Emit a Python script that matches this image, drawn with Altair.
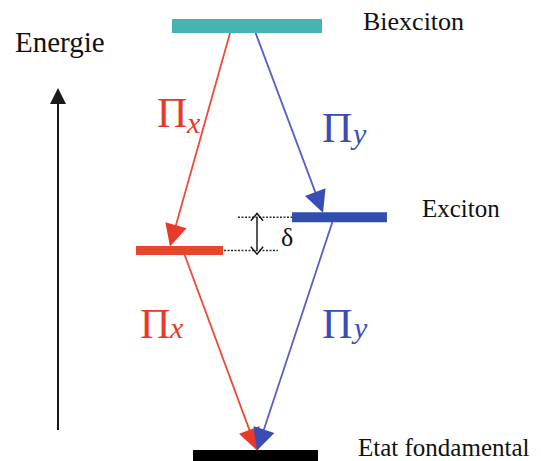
import math
import altair as alt
import pandas as pd

# ---------------- data ----------------
level_names = ["Biexciton", "Exciton X", "Exciton Y", "Etat fondamental"]
level_energy = [4.0, 1.91, 2.22, 0.0]          # arbitrary energy units
level_text = ["Biexciton", "", "Exciton", "Etat fondamental"]

trans_from = ["Biexciton", "Biexciton", "Exciton X", "Exciton Y"]
trans_to = ["Exciton X", "Exciton Y", "Etat fondamental", "Etat fondamental"]
trans_pol = ["x", "y", "x", "y"]

# ---------------- layout / style ----------------
W, H = 525, 453
E_LO, E_HI = -0.0512, 4.1676
SERIF = "Liberation Serif, serif"

level_x = {"Biexciton": (164, 314), "Exciton X": (128, 215),
           "Exciton Y": (284, 379), "Etat fondamental": (185, 310)}
level_thick = {"Biexciton": 14, "Exciton X": 9, "Exciton Y": 10, "Etat fondamental": 11}
level_color = {"Biexciton": "#46b3b5", "Exciton X": "#e8462b",
               "Exciton Y": "#2f4fb0", "Etat fondamental": "#000000"}
level_label_x = {"Biexciton": 355, "Exciton Y": 414, "Etat fondamental": 350}
level_label_y = {"Biexciton": 22, "Exciton Y": 209, "Etat fondamental": 448}
level_label_size = {"Biexciton": 26, "Exciton Y": 25, "Etat fondamental": 25}
trans_x = [(224, 162), (245, 315), (175, 249), (326, 249)]
pol_color = {"x": "#e8392b", "y": "#3a4db5"}
line_color = {"x": "#ee4a35", "y": "#5a5fc2"}
HEAD = 22
TRI = "M0,-1L1,1L-1,1Z"

energy = dict(zip(level_names, level_energy))


def py(e):
    return H - (e - E_LO) / (E_HI - E_LO) * H


def inv(p):
    return E_LO + (H - p) / H * (E_HI - E_LO)


# ---------------- text layers ----------------
text_layers = []
for txt, name in zip(level_text, level_names):
    if not txt:
        continue
    text_layers.append(
        alt.Chart(pd.DataFrame({"t": [txt]})).mark_text(
            font=SERIF, fontSize=level_label_size[name], align="left",
            baseline="alphabetic", color="#111111", fontWeight="normal"
        ).encode(x=alt.value(level_label_x[name]), y=alt.value(level_label_y[name]), text="t:N")
    )

text_layers.append(alt.Chart(pd.DataFrame({"t": ["Energie"]})).mark_text(
    font=SERIF, fontSize=29, align="left", baseline="alphabetic", color="#111111",
    fontWeight="normal"
).encode(x=alt.value(7), y=alt.value(44), text="t:N"))

text_layers.append(alt.Chart(pd.DataFrame({"t": ["δ"]})).mark_text(
    font=SERIF, fontSize=26, align="left", baseline="alphabetic", color="#111111",
    fontWeight="normal"
).encode(x=alt.value(273), y=alt.value(238), text="t:N"))

pi_x = [149, 314, 132, 314]
pi_base = [119, 134, 330, 330]
sub_x = [179, 345, 162, 346]
sub_base = [125, 136, 330, 330]
pol_list = ["x", "y", "x", "y"]
for px_, pb, sx, sb, p in zip(pi_x, pi_base, sub_x, sub_base, pol_list):
    text_layers.append(alt.Chart(pd.DataFrame({"t": ["Π"]})).mark_text(
        font=SERIF, fontSize=42, align="left", baseline="alphabetic", color=pol_color[p],
        fontWeight="normal"
    ).encode(x=alt.value(px_), y=alt.value(pb), text="t:N"))
    text_layers.append(alt.Chart(pd.DataFrame({"t": [p]})).mark_text(
        font=SERIF, fontSize=30, fontStyle="italic", align="left", baseline="alphabetic",
        color=pol_color[p], fontWeight="normal"
    ).encode(x=alt.value(sx), y=alt.value(sb), text="t:N"))

# ---------------- geometry ----------------
lev = pd.DataFrame({
    "e": level_energy,
    "x": [level_x[n][0] for n in level_names],
    "x2": [level_x[n][1] for n in level_names],
    "w": [level_thick[n] for n in level_names],
    "c": [level_color[n] for n in level_names],
})

rows = []
for f, t, p, (x0, x1) in zip(trans_from, trans_to, trans_pol, trans_x):
    y0 = py(energy[f])
    ytip = py(energy[t]) - level_thick[t] / 2 + 0.5
    dx, dy = x1 - x0, ytip - y0
    L = math.hypot(dx, dy)
    ux, uy = dx / L, dy / L
    hx, hy = x1 - HEAD / 2 * ux, ytip - HEAD / 2 * uy
    ang = math.degrees(math.atan2(ux, -uy)) % 360
    rows.append({"x": x0, "e": energy[f], "x2": hx, "e2": inv(hy),
                 "hx": hx, "he": inv(hy), "ang": ang,
                 "lc": line_color[p], "hc": pol_color[p]})
tr = pd.DataFrame(rows)

xs = alt.Scale(domain=[0, W], nice=False, zero=False)
ys = alt.Scale(domain=[E_LO, E_HI], nice=False, zero=False)
X = lambda f: alt.X(f, type="quantitative", scale=xs, axis=None)
Y = lambda f: alt.Y(f, type="quantitative", scale=ys, axis=None)

bars = alt.Chart(lev).mark_rule().encode(
    x=X("x"), x2="x2", y=Y("e"),
    color=alt.Color("c:N", scale=None),
    strokeWidth=alt.StrokeWidth("w:Q", scale=None),
)
lines = alt.Chart(tr).mark_rule(strokeWidth=1.8).encode(
    x=X("x"), y=Y("e"), x2="x2", y2="e2",
    color=alt.Color("lc:N", scale=None),
)
heads = alt.Chart(tr).mark_point(shape=TRI, filled=True, size=HEAD * HEAD,
                                 opacity=1, strokeWidth=0).encode(
    x=X("hx"), y=Y("he"),
    angle=alt.Angle("ang:Q", scale=None),
    color=alt.Color("hc:N", scale=None),
)

dots = pd.DataFrame({
    "x": [230, 216], "x2": [284, 270],
    "e": [energy["Exciton Y"], energy["Exciton X"]],
})
dotted = alt.Chart(dots).mark_rule(strokeDash=[2, 1.5], strokeWidth=1.5,
                                   color="#333333").encode(
    x=X("x"), x2="x2", y=Y("e"))
dd = pd.DataFrame({"x": [249], "e": [energy["Exciton Y"]], "e2": [energy["Exciton X"]]})
dline = alt.Chart(dd).mark_rule(strokeWidth=1.4, color="#111111").encode(
    x=X("x"), y=Y("e"), y2="e2")
CHEV = "M-1,0.6L0,-0.6L1,0.6"
chev_top = alt.Chart(pd.DataFrame({"x": [249], "e": [energy["Exciton Y"]]})).mark_point(
    shape=CHEV, filled=False, size=150, opacity=1, strokeWidth=1.4,
    color="#111111", dy=5).encode(x=X("x"), y=Y("e"))
chev_bot = alt.Chart(pd.DataFrame({"x": [249], "e": [energy["Exciton X"]]})).mark_point(
    shape=CHEV, filled=False, size=150, opacity=1, strokeWidth=1.4,
    color="#111111", dy=-5, angle=180).encode(x=X("x"), y=Y("e"))

one = pd.DataFrame({"a": [0]})
eline = alt.Chart(one).mark_rule(strokeWidth=2, color="#1a1a1a").encode(
    x=alt.value(50), y=alt.value(422), y2=alt.value(94))
ehead = alt.Chart(one).mark_point(shape=TRI, filled=True, size=256, opacity=1,
                                  strokeWidth=0, color="#1a1a1a").encode(
    x=alt.value(50), y=alt.value(88))

chart = alt.layer(
    dotted, dline, chev_top, chev_bot,
    lines, bars, heads, eline, ehead,
    *text_layers,
).properties(
    width=W, height=H, padding=0,
    autosize=alt.AutoSizeParams(type="none"),
    background="white",
).configure_view(stroke=None)

chart.save("out.html", embed_options={"renderer": "svg", "actions": False})
